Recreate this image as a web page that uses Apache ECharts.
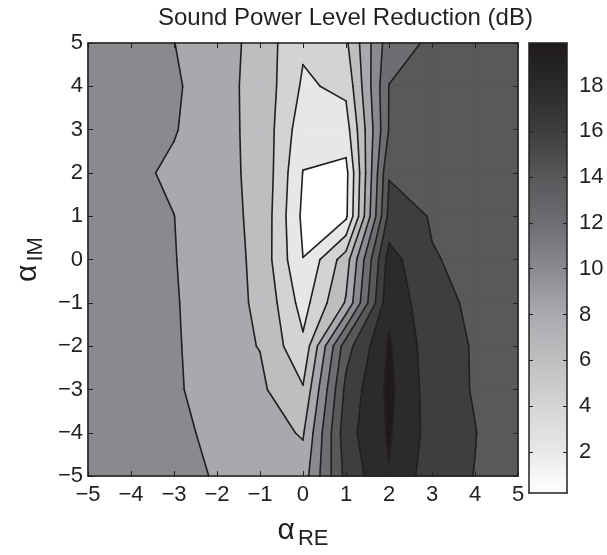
<!DOCTYPE html>
<html>
<head>
<meta charset="utf-8">
<script src="https://cdn.jsdelivr.net/npm/echarts@6/dist/echarts.min.js"></script>
<style>
html,body{margin:0;padding:0;background:#ffffff;}
#chart{width:607px;height:555px;}
</style>
</head>
<body>
<div id="chart"></div>
<script>
// ---- data ----
const alphaRE = [-5, -4, -3, -2, -1, 0, 1, 2, 3, 4, 5];          // columns
const alphaIM = [5, 4, 3, 2, 1, 0, -1, -2, -3, -4, -5];          // rows
// Sound power level reduction (dB), reduction[row][col]
const reduction = [
  [10.28, 9.92, 9.22, 8.35, 6.68, 4.07, 5.29, 12.01, 13.09, 13.70, 13.88],
  [10.28, 9.92, 9.52, 7.94, 6.90, 3.53, 4.21, 12.84, 13.52, 13.70, 13.88],
  [10.28, 9.92, 9.35, 7.83, 7.02, 2.72, 2.99, 12.89, 13.70, 13.70, 13.88],
  [10.28, 9.74, 8.80, 7.60, 7.24, 1.95, 1.46, 14.49, 13.88, 13.70, 13.88],
  [10.28, 9.92, 9.22, 7.83, 7.13, 1.62, 1.64, 15.14, 14.53, 13.88, 13.70],
  [10.28, 9.92, 9.26, 8.35, 6.95, 2.02, 6.54, 17.17, 14.65, 14.42, 13.52],
  [10.28, 9.92, 9.42, 7.76, 7.27, 3.08, 7.58, 17.84, 15.01, 14.37, 13.52],
  [10.28, 9.92, 9.48, 7.94, 7.35, 4.16, 13.88, 18.38, 15.37, 14.47, 13.34],
  [10.28, 9.92, 9.48, 8.30, 7.74, 5.76, 15.09, 18.61, 15.50, 14.47, 13.34],
  [10.28, 9.92, 9.76, 8.66, 8.23, 7.22, 15.70, 18.38, 15.68, 14.65, 13.34],
  [10.28, 9.92, 9.58, 9.11, 8.48, 8.30, 15.16, 18.11, 15.36, 14.56, 13.52]
];
const contourLevels = [2.0, 3.8, 5.6, 7.4, 9.2, 11.0, 12.8, 14.6, 16.4, 18.2];
const colorbarRange = [0.2, 19.86];
const colorbarTicks = [2, 4, 6, 8, 10, 12, 14, 16, 18];
const axisTickValues = [-5, -4, -3, -2, -1, 0, 1, 2, 3, 4, 5];
const titleText = 'Sound Power Level Reduction (dB)';

// ---- styles ----
const bandColors = ['#ffffff', '#e6e7e8', '#d1d3d4', '#bcbec0', '#a7a9ac', '#898a8d',
                    '#6d6e71', '#58595b', '#3e3d3f', '#2c2a2b', '#1f1b1c'];
const INK = '#231f20';
const FONT = "'Liberation Sans', Arial, Helvetica, sans-serif";

// ---- contour geometry from the grid ----
function cross(p, q, vp, vq, thr) {
  const t = (thr - vp) / (vq - vp);
  return [p[0] + t * (q[0] - p[0]), p[1] + t * (q[1] - p[1])];
}
function cellInfo(i, j) {
  const c = [[alphaRE[i], alphaIM[j]], [alphaRE[i + 1], alphaIM[j]],
             [alphaRE[i + 1], alphaIM[j + 1]], [alphaRE[i], alphaIM[j + 1]]];
  const v = [reduction[j][i], reduction[j][i + 1], reduction[j + 1][i + 1], reduction[j + 1][i]];
  return {c, v};
}
function bandPolygons(thr) {
  const out = [];
  for (let j = 0; j < alphaIM.length - 1; j++) {
    for (let i = 0; i < alphaRE.length - 1; i++) {
      const {c, v} = cellInfo(i, j);
      const a = v.map(x => x >= thr);
      const saddle = a[0] === a[2] && a[1] === a[3] && a[0] !== a[1];
      const center = (v[0] + v[1] + v[2] + v[3]) / 4;
      if (saddle && center < thr) {
        for (let n = 0; n < 4; n++) {
          if (!a[n]) continue;
          const nx = (n + 1) % 4, pv = (n + 3) % 4;
          out.push([c[n], cross(c[n], c[nx], v[n], v[nx], thr), cross(c[pv], c[n], v[pv], v[n], thr)]);
        }
        continue;
      }
      const poly = [];
      for (let n = 0; n < 4; n++) {
        const nx = (n + 1) % 4;
        if (a[n]) poly.push(c[n]);
        if (a[n] !== a[nx]) poly.push(cross(c[n], c[nx], v[n], v[nx], thr));
      }
      if (poly.length >= 3) out.push(poly);
    }
  }
  return out;
}
function levelSegments(thr) {
  const out = [];
  for (let j = 0; j < alphaIM.length - 1; j++) {
    for (let i = 0; i < alphaRE.length - 1; i++) {
      const {c, v} = cellInfo(i, j);
      const a = v.map(x => x >= thr);
      const xs = [];
      for (let n = 0; n < 4; n++) {
        const nx = (n + 1) % 4;
        xs.push(a[n] !== a[nx] ? cross(c[n], c[nx], v[n], v[nx], thr) : null);
      }
      const found = xs.filter(p => p);
      if (found.length === 2) {
        out.push(found);
      } else if (found.length === 4) {
        const center = (v[0] + v[1] + v[2] + v[3]) / 4;
        const conn = center >= thr;
        for (let n = 0; n < 4; n++) {
          if (a[n] !== conn) out.push([xs[(n + 3) % 4], xs[n]]);
        }
      }
    }
  }
  return out;
}

const fmt = v => String(v).replace('-', '\u2212');

const chart = echarts.init(document.getElementById('chart'), null, {renderer: 'canvas'});
const axisLineStyle = {color: INK, width: 1.5};
const labelStyle = {color: INK, fontSize: 22, fontFamily: FONT};

chart.setOption({
  animation: false,
  backgroundColor: '#ffffff',
  title: {
    text: titleText, left: 153, top: 1,
    textStyle: {fontSize: 24, fontWeight: 'normal', color: INK, fontFamily: FONT}
  },
  grid: [
    {left: 78, top: 43, width: 440, height: 450},
    {left: 529, top: 43, width: 38, height: 450}
  ],
  xAxis: [
    {gridIndex: 0, type: 'value', min: -5, max: 5, interval: 1, position: 'bottom', z: 10,
     axisLine: {show: true, onZero: false, lineStyle: axisLineStyle},
     axisTick: {show: true, inside: true, length: 5, lineStyle: {color: INK, width: 1}},
     axisLabel: Object.assign({margin: 8, formatter: fmt}, labelStyle),
     splitLine: {show: false},
     name: '{a|\u03b1}{b|RE}', nameLocation: 'middle', nameGap: 22,
     nameTextStyle: {color: INK, fontFamily: FONT, rich: {
       a: {fontSize: 30, lineHeight: 30, verticalAlign: 'top', color: INK, fontFamily: FONT},
       b: {fontSize: 22, lineHeight: 22, padding: [17, 0, 0, 3], color: INK, fontFamily: FONT}
     }}},
    {gridIndex: 0, type: 'value', min: -5, max: 5, interval: 1, position: 'top', z: 10,
     axisLine: {show: true, onZero: false, lineStyle: axisLineStyle},
     axisTick: {show: true, inside: true, length: 5, lineStyle: {color: INK, width: 1}},
     axisLabel: {show: false}, splitLine: {show: false}},
    {gridIndex: 1, type: 'value', min: 0, max: 1, position: 'bottom', z: 10,
     axisLine: {show: true, onZero: false, lineStyle: axisLineStyle},
     axisTick: {show: false}, axisLabel: {show: false}, splitLine: {show: false}},
    {gridIndex: 1, type: 'value', min: 0, max: 1, position: 'top', z: 10,
     axisLine: {show: true, onZero: false, lineStyle: axisLineStyle},
     axisTick: {show: false}, axisLabel: {show: false}, splitLine: {show: false}}
  ],
  yAxis: [
    {gridIndex: 0, type: 'value', min: -5, max: 5, interval: 1, position: 'left', z: 10,
     axisLine: {show: true, onZero: false, lineStyle: axisLineStyle},
     axisTick: {show: true, inside: true, length: 5, lineStyle: {color: INK, width: 1}},
     axisLabel: Object.assign({margin: 5, formatter: fmt}, labelStyle),
     splitLine: {show: false},
     name: '{a|\u03b1}{b|IM}', nameLocation: 'middle', nameGap: 38, nameRotate: 90,
     nameTextStyle: {color: INK, fontFamily: FONT, rich: {
       a: {fontSize: 30, lineHeight: 30, verticalAlign: 'top', color: INK, fontFamily: FONT},
       b: {fontSize: 22, lineHeight: 22, padding: [17, 0, 0, 3], color: INK, fontFamily: FONT}
     }}},
    {gridIndex: 0, type: 'value', min: -5, max: 5, interval: 1, position: 'right', z: 10,
     axisLine: {show: true, onZero: false, lineStyle: axisLineStyle},
     axisTick: {show: true, inside: true, length: 5, lineStyle: {color: INK, width: 1}},
     axisLabel: {show: false}, splitLine: {show: false}},
    {gridIndex: 1, type: 'value', min: colorbarRange[0], max: colorbarRange[1], position: 'right', z: 10,
     axisLine: {show: true, onZero: false, lineStyle: axisLineStyle},
     axisTick: {show: true, inside: true, length: 4, customValues: colorbarTicks, lineStyle: {color: INK, width: 1}},
     axisLabel: Object.assign({margin: 12, customValues: colorbarTicks}, labelStyle),
     splitLine: {show: false}},
    {gridIndex: 1, type: 'value', min: colorbarRange[0], max: colorbarRange[1], position: 'left', z: 10,
     axisLine: {show: true, onZero: false, lineStyle: axisLineStyle},
     axisTick: {show: true, inside: true, length: 4, customValues: colorbarTicks, lineStyle: {color: INK, width: 1}},
     axisLabel: {show: false}, splitLine: {show: false}}
  ],
  series: [
    {
      type: 'custom', name: 'bands', xAxisIndex: 0, yAxisIndex: 0, silent: true, z: 2,
      data: bandColors.map((c, k) => ({value: [0, 0, k]})),
      renderItem(params, api) {
        const k = api.value(2);
        const thr = k === 0 ? -Infinity : contourLevels[k - 1];
        const polys = bandPolygons(thr);
        return {
          type: 'group',
          children: polys.map(poly => ({
            type: 'polygon',
            shape: {points: poly.map(p => api.coord(p))},
            style: {fill: bandColors[k], stroke: bandColors[k], lineWidth: 0.8}
          }))
        };
      }
    },
    {
      type: 'custom', name: 'lines', xAxisIndex: 0, yAxisIndex: 0, silent: true, z: 3,
      data: contourLevels.map(l => ({value: [0, 0, l]})),
      renderItem(params, api) {
        const thr = api.value(2);
        const segs = levelSegments(thr);
        return {
          type: 'group',
          children: segs.map(s => {
            const p = api.coord(s[0]), q = api.coord(s[1]);
            return {type: 'line', shape: {x1: p[0], y1: p[1], x2: q[0], y2: q[1]},
                    style: {stroke: INK, lineWidth: 1.6, lineCap: 'round'}};
          })
        };
      }
    },
    {
      type: 'custom', name: 'colorbar', xAxisIndex: 2, yAxisIndex: 2, silent: true, z: 2,
      data: [{value: [0, colorbarRange[0]]}],
      renderItem(params, api) {
        const p0 = api.coord([0, colorbarRange[1]]);
        const p1 = api.coord([1, colorbarRange[0]]);
        const stops = bandColors.slice().reverse().map((c, i, arr) => ({offset: i / (arr.length - 1), color: c}));
        return {
          type: 'rect',
          shape: {x: p0[0], y: p0[1], width: p1[0] - p0[0], height: p1[1] - p0[1]},
          style: {fill: new echarts.graphic.LinearGradient(0, 0, 0, 1, stops)}
        };
      }
    }
  ]
});
</script>
</body>
</html>
